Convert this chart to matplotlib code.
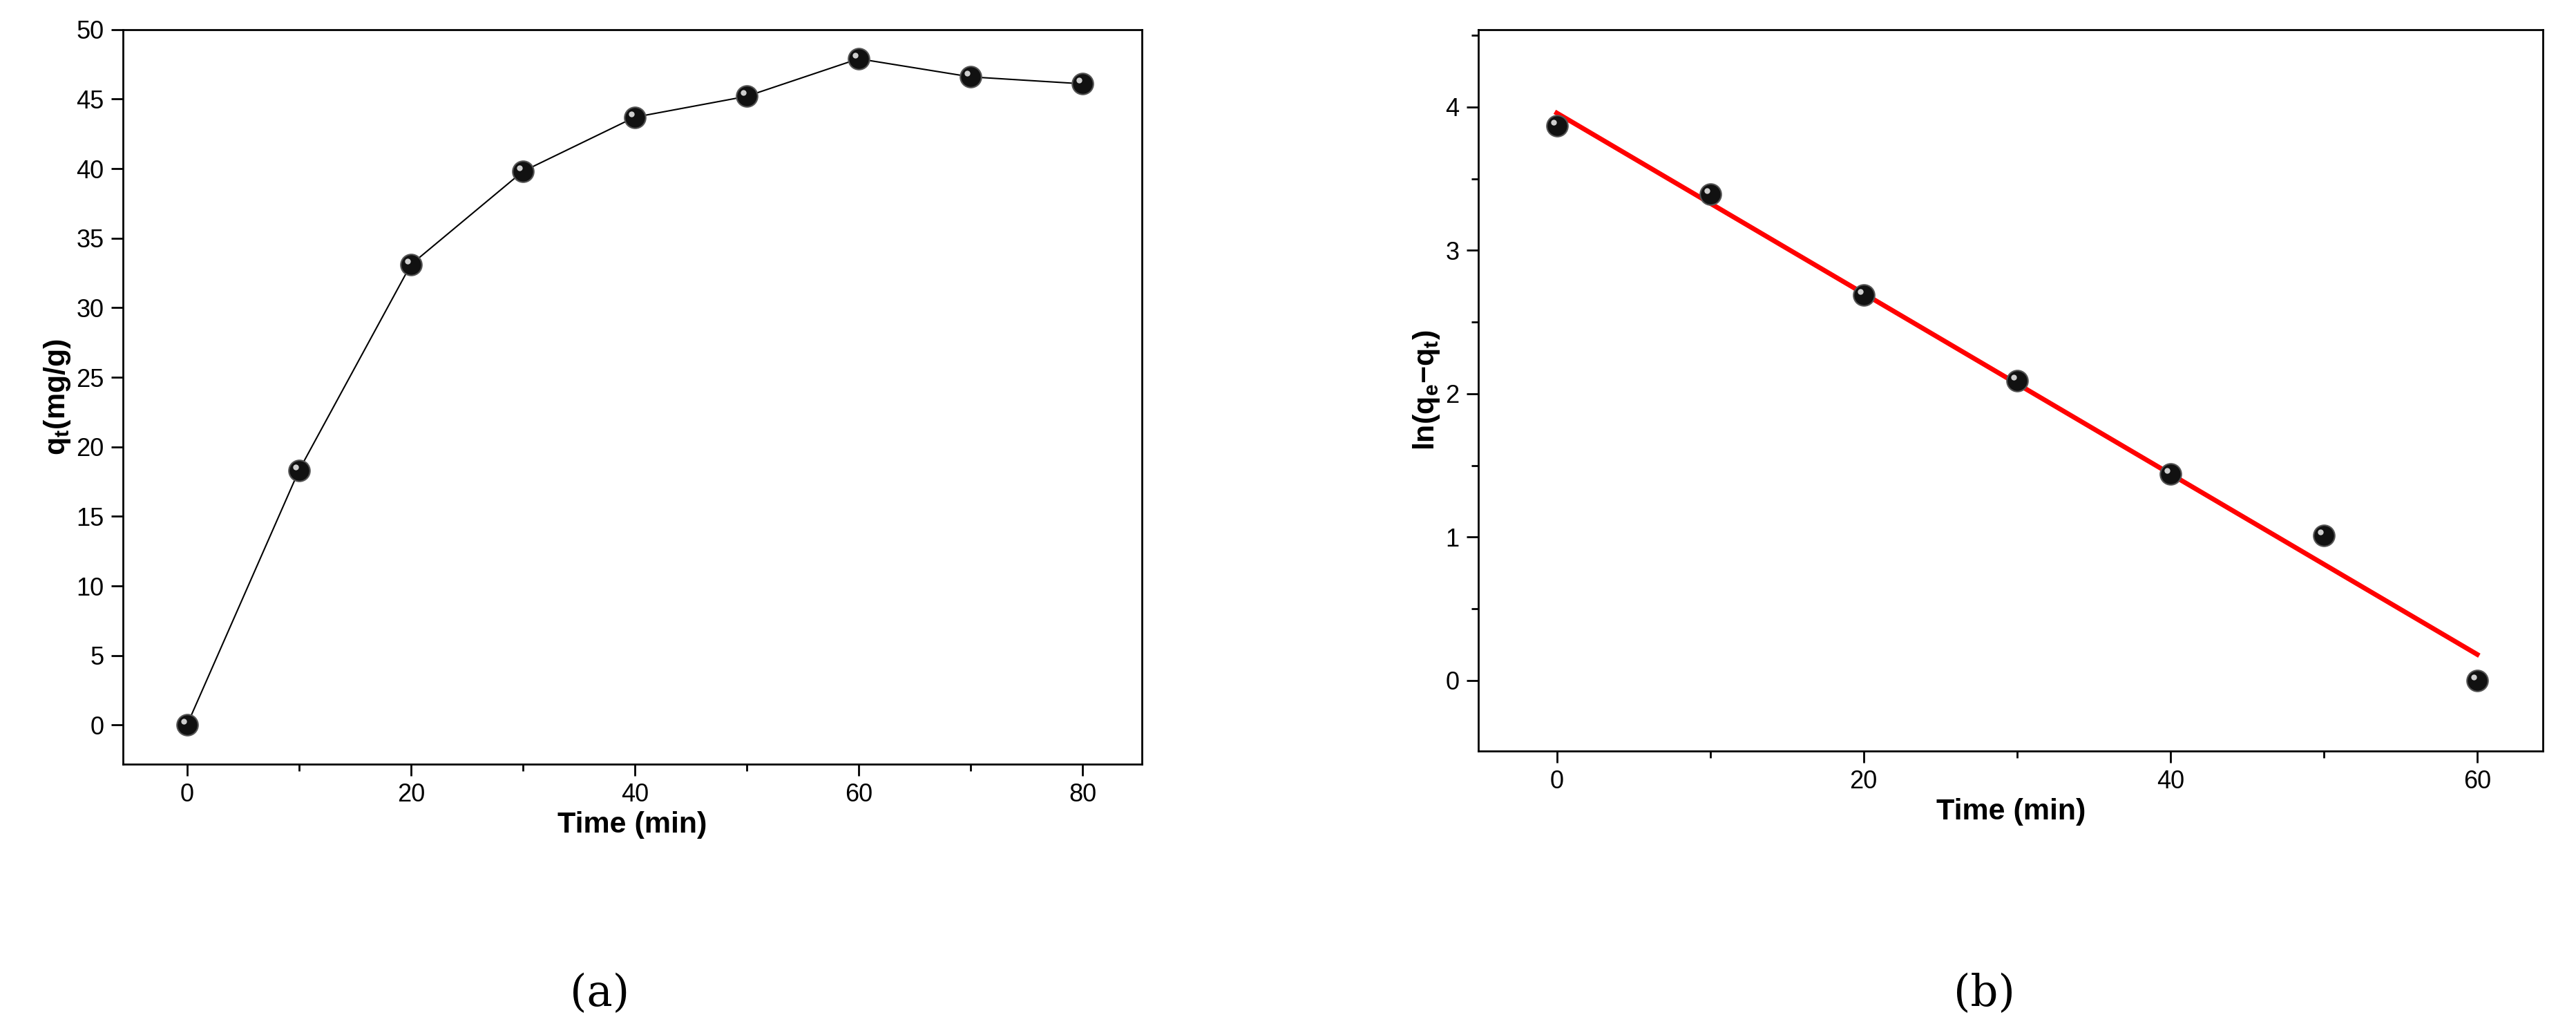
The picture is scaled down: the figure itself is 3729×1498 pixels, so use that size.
import numpy as np
import matplotlib
matplotlib.use("Agg")
import matplotlib.pyplot as plt
from matplotlib.ticker import MultipleLocator

plt.rcParams['font.family'] = ['Liberation Sans', 'DejaVu Sans']
plt.rcParams['mathtext.fontset'] = 'custom'
plt.rcParams['mathtext.bf'] = 'Liberation Sans:bold'
plt.rcParams['mathtext.rm'] = 'Liberation Sans'

t_a = [0, 10, 20, 30, 40, 50, 60, 70, 80]
qt = [0, 18.3, 33.1, 39.8, 43.7, 45.2, 47.9, 46.6, 46.1]
t_b = [0, 10, 20, 30, 40, 50, 60]
lnq = [3.87, 3.39, 2.69, 2.09, 1.44, 1.01, 0.0]

W, H = 3729, 1498
fig = plt.figure(figsize=(W/100, H/100), dpi=100)
ax1 = fig.add_axes([75/1568, 1-465/630, 620/1568, 447/630])
ax2 = fig.add_axes([900/1568, 1-457/630, 648/1568, 439/630])

def sphere(ax, x, y):
    ax.plot(x, y, 'o', ms=22, mfc='#111111', mec='#555555', mew=1.5, zorder=3)
    ax.plot(x, y, 'o', ms=6, mfc='white', mec='none', alpha=0.8, zorder=4,
            transform=ax.transData + matplotlib.transforms.ScaledTranslation(-0.05, 0.05, fig.dpi_scale_trans))

ax1.plot(t_a, qt, '-', color='black', lw=1.5)
sphere(ax1, t_a, qt)
ax1.set_xlim(-5.7, 85.3); ax1.set_ylim(-2.8, 50)
ax1.xaxis.set_major_locator(MultipleLocator(20)); ax1.xaxis.set_minor_locator(MultipleLocator(10))
ax1.yaxis.set_major_locator(MultipleLocator(5))
ax1.set_xlabel('Time (min)', fontsize=31, fontweight='bold')
ax1.set_ylabel(r'$\mathbf{q_t}$$\mathbf{(mg/g)}$', fontsize=31, fontweight='bold')

slope, icpt = np.polyfit(t_b, lnq, 1)
xs = np.array([t_b[0], t_b[-1]])
ax2.plot(xs, slope*xs+icpt, '-', color='red', lw=5, zorder=2)
sphere(ax2, t_b, lnq)
ax2.set_xlim(-5.1, 64.3); ax2.set_ylim(-0.49, 4.54)
ax2.xaxis.set_major_locator(MultipleLocator(20)); ax2.xaxis.set_minor_locator(MultipleLocator(10))
ax2.yaxis.set_major_locator(MultipleLocator(1)); ax2.yaxis.set_minor_locator(MultipleLocator(0.5))
ax2.set_xlabel('Time (min)', fontsize=31, fontweight='bold')
ax2.set_ylabel(r'$\mathbf{ln(q_e}$$\mathbf{-}$$\mathbf{q_t)}$', fontsize=31, fontweight='bold')

for ax in (ax1, ax2):
    ax.tick_params(which='major', direction='out', length=12, width=2, labelsize=26, pad=8)
    ax.tick_params(which='minor', direction='out', length=7, width=2)
    for s in ax.spines.values():
        s.set_linewidth(2)

fig.text(365/1568, 1-605/630, '(a)', fontsize=45, family='DejaVu Serif', ha='center', va='center')
fig.text(1208/1568, 1-605/630, '(b)', fontsize=45, family='DejaVu Serif', ha='center', va='center')
fig.savefig('out.png', dpi=100)
